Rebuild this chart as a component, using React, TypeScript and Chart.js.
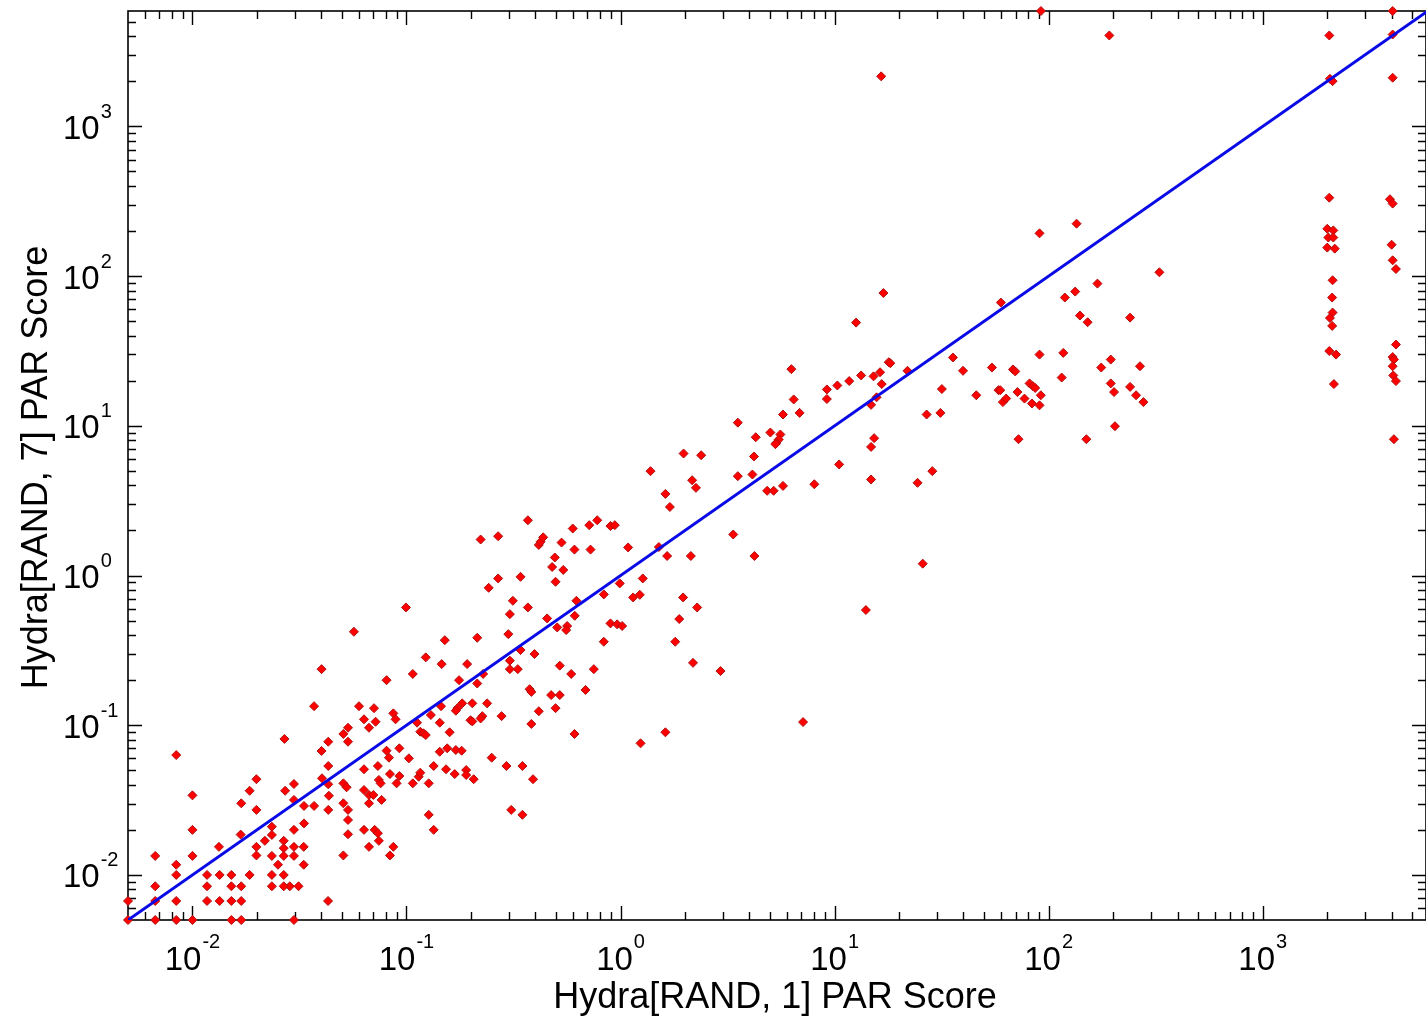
import React, { useEffect, useRef } from "react";
import { Chart, registerables } from "chart.js";

Chart.register(...registerables);

// ---- axis set-up -------------------------------------------------------
const X_RANGE: [number, number] = [0.005, 5790];
const Y_RANGE: [number, number] = [0.005, 5900];
const DECADE_EXPONENTS = [-2, -1, 0, 1, 2, 3];
const MINOR_STEPS = [2, 3, 4, 5, 6, 7, 8, 9];
const X_TITLE = "Hydra[RAND, 1] PAR Score";
const Y_TITLE = "Hydra[RAND, 7] PAR Score";
const DIAGONAL: [number, number] = [0.005, 6000];

// ---- data: [Hydra[RAND,1] score, Hydra[RAND,7] score] ------------------
const lowCluster: [number, number][] = [
  [0.0269, 0.081], [0.0298, 0.0317], [0.0298, 0.02], [0.0298, 0.0154], [0.0298, 0.0134],
  [0.0267, 0.0169], [0.0267, 0.0151], [0.0267, 0.0134], [0.0235, 0.021], [0.0235, 0.0185],
  [0.0235, 0.0134], [0.0235, 0.01], [0.0235, 0.0084], [0.0251, 0.0117], [0.0267, 0.01],
  [0.0285, 0.0084], [0.0267, 0.0084], [0.0313, 0.0084], [0.0199, 0.0436], [0.0199, 0.0272],
  [0.0185, 0.0365], [0.0169, 0.0301], [0.0168, 0.0186], [0.0199, 0.0154], [0.0199, 0.0135],
  [0.0218, 0.0169], [0.0185, 0.01], [0.0169, 0.0084], [0.0169, 0.0067], [0.0152, 0.01],
  [0.0152, 0.0084], [0.0152, 0.0067], [0.0134, 0.01], [0.0134, 0.0067], [0.0117, 0.01],
  [0.0117, 0.0084], [0.0117, 0.0067], [0.0133, 0.0154], [0.01, 0.034], [0.01, 0.02],
  [0.01, 0.0134], [0.0084, 0.0632], [0.0084, 0.0117], [0.0084, 0.01], [0.0084, 0.0067],
  [0.0067, 0.0134], [0.0067, 0.0084], [0.005, 0.0067], [0.0067, 0.0067], [0.005, 0.005],
  [0.0067, 0.005], [0.0084, 0.005], [0.01, 0.005], [0.0152, 0.005], [0.0169, 0.005],
  [0.0298, 0.005], [0.0271, 0.0365], [0.0298, 0.0405], [0.0331, 0.0154], [0.0331, 0.0117],
  [0.0507, 0.0135], [0.0837, 0.0135], [0.043, 0.0067],
];

const midClusterUpper: [number, number][] = [
  [0.369, 2.34], [0.222, 1.74], [0.268, 1.83], [0.415, 1.6], [0.423, 1.68], [0.435, 1.8],
  [0.53, 1.66], [0.598, 2.06], [0.714, 2.17], [0.778, 2.34], [0.897, 2.14], [0.94, 2.17],
  [0.609, 1.49], [0.724, 1.49], [1.085, 1.54], [0.493, 1.32], [0.479, 1.14], [0.54, 1.09],
  [0.497, 0.908], [0.341, 0.98], [0.268, 0.956], [0.242, 0.828], [0.314, 0.678], [0.369, 0.612],
  [0.304, 0.552], [0.299, 0.406], [0.454, 0.517], [0.506, 0.45], [0.563, 0.46], [0.557, 0.432],
  [0.622, 0.678], [0.611, 0.538], [0.835, 0.748], [0.991, 0.886], [1.27, 0.956], [1.145, 0.714],
  [1.23, 0.743], [0.897, 0.479], [0.964, 0.472], [1.017, 0.46], [0.835, 0.361], [0.75, 0.237],
  [0.588, 0.22], [0.686, 0.172], [0.52, 0.25], [0.396, 0.299], [0.341, 0.318], [0.304, 0.27],
  [0.304, 0.237], [0.331, 0.237], [0.214, 0.384], [0.151, 0.37], [0.0994, 0.612], [0.0568, 0.421],
  [0.0401, 0.237], [0.192, 0.256], [0.146, 0.256], [0.123, 0.284], [0.107, 0.22], [0.0807, 0.2],
  [0.176, 0.2], [0.214, 0.19], [0.228, 0.22], [0.376, 0.174], [0.383, 0.167], [0.474, 0.159],
  [0.52, 0.159], [0.497, 0.13], [0.415, 0.124], [0.383, 0.102], [0.278, 0.115], [0.238, 0.14],
  [0.226, 0.115], [0.222, 0.111], [0.199, 0.108], [0.203, 0.106], [0.182, 0.14], [0.203, 0.14],
  [0.173, 0.13], [0.17, 0.125], [0.145, 0.134], [0.13, 0.117], [0.143, 0.104], [0.159, 0.0897],
  [0.116, 0.0905], [0.12, 0.0883], [0.123, 0.086], [0.112, 0.104], [0.0868, 0.12], [0.0889, 0.1095],
  [0.06, 0.134], [0.0705, 0.13], [0.037, 0.134], [0.0717, 0.1055], [0.0668, 0.0962], [0.0633, 0.1095],
];

const midClusterLower: [number, number][] = [
  [0.0926, 0.0701], [0.0807, 0.0676], [0.0828, 0.0607], [0.0533, 0.0962], [0.0507, 0.0874],
  [0.0533, 0.0776], [0.0401, 0.0673], [0.0431, 0.0776], [0.0431, 0.0534], [0.0403, 0.0442],
  [0.0431, 0.0403], [0.0434, 0.0338], [0.0431, 0.0272], [0.037, 0.0289], [0.0332, 0.0289],
  [0.0332, 0.0221], [0.0507, 0.0409], [0.0525, 0.0385], [0.0507, 0.0301], [0.0533, 0.0272],
  [0.0533, 0.0233], [0.0533, 0.0187], [0.0633, 0.0369], [0.0668, 0.0342], [0.07, 0.0342],
  [0.0668, 0.0301], [0.0633, 0.02], [0.071, 0.02], [0.0735, 0.019], [0.0743, 0.0169],
  [0.0668, 0.0154], [0.0868, 0.0154], [0.0633, 0.0508], [0.0735, 0.0534], [0.0743, 0.0431],
  [0.0757, 0.0409], [0.0765, 0.0317], [0.0837, 0.0472], [0.0899, 0.0409], [0.0926, 0.0458],
  [0.1026, 0.0601], [0.107, 0.0409], [0.114, 0.0453], [0.116, 0.0482], [0.127, 0.0409],
  [0.134, 0.0534], [0.143, 0.0665], [0.155, 0.0701], [0.17, 0.0683], [0.181, 0.0676],
  [0.153, 0.0508], [0.168, 0.0472], [0.19, 0.0502], [0.19, 0.0465], [0.206, 0.0436],
  [0.127, 0.0252], [0.134, 0.02], [0.25, 0.0607], [0.293, 0.0534], [0.348, 0.0534],
  [0.39, 0.0436], [0.609, 0.0874], [0.3085, 0.0272], [0.348, 0.0252], [1.24, 0.0757],
];

const upperCluster: [number, number][] = [
  [12.6, 48.9], [6.28, 23.9], [9.2, 17.5], [9.2, 15.1], [10.3, 18.6], [11.7, 19.9], [13.3, 21.7],
  [15.2, 21.4], [16.3, 22.8], [17.9, 26.6], [18.2, 26.2], [16.6, 19.0], [21.9, 23.3], [35.7, 28.6],
  [39.8, 23.3], [54.3, 24.5], [58.3, 17.3], [45.9, 16.0], [31.7, 17.6], [31.2, 12.2], [26.9, 11.9],
  [15.7, 15.5], [14.8, 13.8], [15.3, 8.27], [14.8, 7.23], [14.8, 4.38], [24.4, 4.16], [28.6, 4.98],
  [25.8, 1.2], [14.0, 0.588], [10.5, 5.52], [8.04, 4.07], [6.44, 15.0], [6.86, 12.2], [5.74, 11.9],
  [3.53, 10.5], [4.28, 8.39], [5.01, 9.02], [5.58, 8.75], [5.48, 8.1], [5.34, 7.69], [5.29, 7.54],
  [4.2, 6.24], [4.13, 4.73], [3.53, 4.61], [4.84, 3.68], [5.19, 3.68], [5.74, 3.97], [1.97, 6.53],
  [2.38, 6.36], [1.38, 4.98], [2.16, 4.33], [2.25, 3.85], [1.62, 3.51], [1.7, 2.87], [1.51, 1.55],
  [1.65, 1.35], [2.13, 1.35], [3.36, 1.88], [4.22, 1.35], [1.96, 0.714], [1.88, 0.512], [2.28, 0.612],
  [1.8, 0.361], [2.18, 0.261], [2.93, 0.23], [7.12, 0.105], [1.62, 0.0897],
];

const highCluster: [number, number][] = [
  [92, 5900], [192, 4050], [16.5, 2160], [90.6, 193], [135, 224], [329, 106], [16.9, 77.1],
  [169, 89.1], [119, 71.9], [133, 78.8], [140, 54.5], [152, 49.2], [240, 52.8], [59.8, 66.6],
  [90.6, 29.9], [117, 30.7], [115, 21.0], [195, 27.7], [176, 24.5], [267, 25.0], [195, 19.2],
  [202, 16.8], [240, 18.2], [256, 16.0], [277, 14.4], [204, 9.94], [150, 8.14], [72.3, 8.14],
  [68.1, 23.8], [69.8, 23.1], [59.4, 17.3], [61.1, 14.4], [63.3, 15.2], [71.5, 16.8], [77.1, 15.2],
  [81.4, 19.2], [84.4, 18.4], [86.5, 17.9], [83.5, 14.1], [90.6, 13.7], [91.9, 16.0],
];

const timeoutColumns: [number, number][] = [
  [4045, 5900], [2046, 4050], [4045, 4110], [2060, 2080], [2120, 2006], [4045, 2114],
  [2046, 334], [3929, 326], [4045, 305], [2002, 207], [2136, 202], [2025, 181], [2136, 181],
  [2002, 155], [2170, 152.6], [4000, 162], [4045, 127.5], [4190, 111.5], [2120, 93.8],
  [2110, 71.9], [2120, 57.1], [2060, 52.5], [2110, 46.5], [2046, 31.6], [2200, 29.9],
  [2150, 19.0], [4190, 34.9], [4045, 28.8], [4100, 27.7], [4045, 25.0], [4070, 21.7],
  [4190, 19.9], [4100, 8.14],
];

const FONT = '"Liberation Sans", Arial, Helvetica, sans-serif';

function logTicks(min: number, max: number) {
  const out: { v: number; major: boolean }[] = [];
  const e0 = Math.floor(Math.log10(min));
  const e1 = Math.ceil(Math.log10(max));
  for (let e = e0; e <= e1; e++) {
    for (const m of [1, ...MINOR_STEPS]) {
      const v = m * Math.pow(10, e);
      if (v > min * 1.0001 && v < max * 0.9999) out.push({ v, major: m === 1 });
    }
  }
  return out;
}

const matlabAxes = {
  id: "matlabAxes",
  beforeDatasetsDraw(chart: any) {
    const { ctx, chartArea: a, scales } = chart;
    const xs = scales.x;
    const ys = scales.y;
    ctx.save();
    ctx.strokeStyle = "#000";
    ctx.lineWidth = 1.6;
    ctx.strokeRect(a.left, a.top, a.right - a.left, a.bottom - a.top);

    ctx.lineWidth = 1.4;
    ctx.beginPath();
    for (const t of logTicks(X_RANGE[0], X_RANGE[1])) {
      const px = Math.round(xs.getPixelForValue(t.v)) + 0.5;
      const len = t.major ? 14 : 8;
      ctx.moveTo(px, a.bottom);
      ctx.lineTo(px, a.bottom - len);
      ctx.moveTo(px, a.top);
      ctx.lineTo(px, a.top + len);
    }
    for (const t of logTicks(Y_RANGE[0], Y_RANGE[1])) {
      const py = Math.round(ys.getPixelForValue(t.v)) + 0.5;
      const len = t.major ? 14 : 8;
      ctx.moveTo(a.left, py);
      ctx.lineTo(a.left + len, py);
      ctx.moveTo(a.right, py);
      ctx.lineTo(a.right - len, py);
    }
    ctx.stroke();

    // tick labels 10^k
    ctx.fillStyle = "#000";
    ctx.textBaseline = "alphabetic";
    ctx.textAlign = "left";
    const baseFont = `33px ${FONT}`;
    const supFont = `20px ${FONT}`;
    for (const e of DECADE_EXPONENTS) {
      const sup = String(e);
      ctx.font = baseFont;
      const wb = ctx.measureText("10").width;
      ctx.font = supFont;
      const ws = ctx.measureText(sup).width;
      // x axis
      const px = xs.getPixelForValue(Math.pow(10, e));
      const start = px - (wb + 1 + ws) / 2;
      ctx.font = baseFont;
      ctx.fillText("10", start, a.bottom + 50);
      ctx.font = supFont;
      ctx.fillText(sup, start + wb + 1, a.bottom + 28);
      // y axis
      const py = ys.getPixelForValue(Math.pow(10, e));
      const left = a.left - 65;
      ctx.font = baseFont;
      ctx.fillText("10", left, py + 12.5);
      ctx.font = supFont;
      ctx.fillText(sup, left + wb + 1, py - 8.5);
    }

    // axis titles
    ctx.font = `36px ${FONT}`;
    ctx.textAlign = "center";
    ctx.fillText(X_TITLE, (a.left + a.right) / 2 - 2, a.bottom + 88);
    ctx.save();
    ctx.translate(a.left - 81, (a.top + a.bottom) / 2 + 2);
    ctx.rotate(-Math.PI / 2);
    ctx.fillText(Y_TITLE, 0, 0);
    ctx.restore();
    ctx.restore();
  },
};

export default function App() {
  const canvasRef = useRef<HTMLCanvasElement | null>(null);

  useEffect(() => {
    if (!canvasRef.current) return;
    const points = [
      ...lowCluster,
      ...midClusterUpper,
      ...midClusterLower,
      ...upperCluster,
      ...highCluster,
      ...timeoutColumns,
    ].map(([x, y]) => ({ x, y }));

    const chart = new Chart(canvasRef.current, {
      type: "scatter",
      data: {
        datasets: [
          {
            type: "line",
            data: DIAGONAL.map((v) => ({ x: v, y: v })),
            borderColor: "#0a0ae6",
            borderWidth: 3,
            pointRadius: 0,
            fill: false,
            order: 0,
          } as any,
          {
            type: "scatter",
            data: points,
            pointStyle: "rectRot",
            pointRadius: 4.5,
            pointHoverRadius: 4.5,
            backgroundColor: "#ff0000",
            borderColor: "#b01010",
            borderWidth: 1,
            clip: false,
            order: 1,
          } as any,
        ],
      },
      options: {
        animation: false,
        responsive: false,
        devicePixelRatio: 1,
        layout: { autoPadding: false, padding: { left: 128, top: 11, right: 0, bottom: 97 } },
        plugins: { legend: { display: false }, tooltip: { enabled: false } },
        scales: {
          x: { type: "logarithmic", min: X_RANGE[0], max: X_RANGE[1], display: false },
          y: { type: "logarithmic", min: Y_RANGE[0], max: Y_RANGE[1], display: false },
        },
      },
      plugins: [matlabAxes],
    });
    return () => chart.destroy();
  }, []);

  return (
    <div style={{ position: "absolute", left: 0, top: 0, width: 1426, height: 1017, background: "#fff" }}>
      <canvas ref={canvasRef} width={1426} height={1017} />
    </div>
  );
}
